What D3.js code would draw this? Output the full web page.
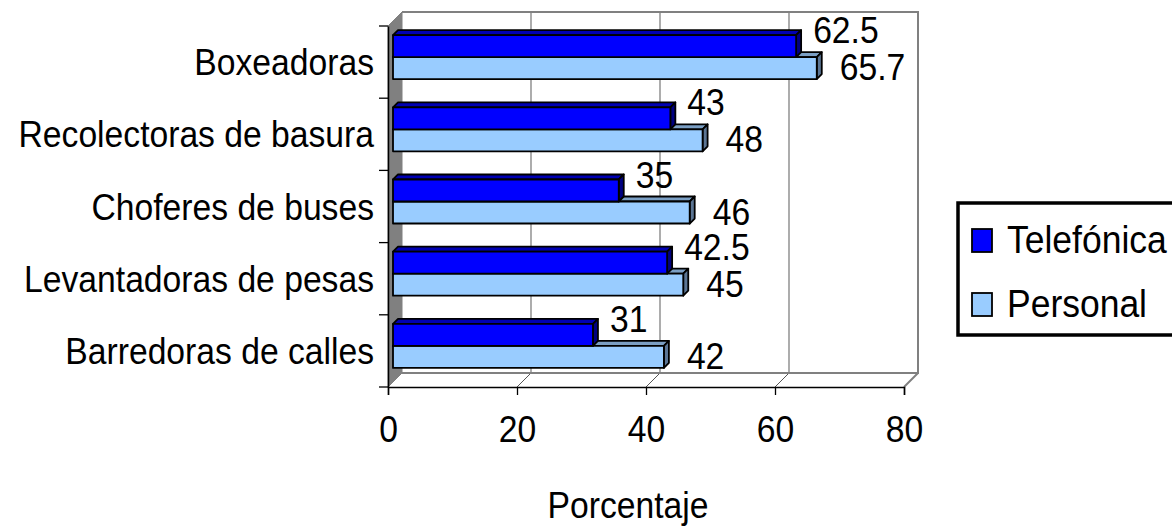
<!DOCTYPE html>
<html><head><meta charset="utf-8">
<script src="https://cdn.jsdelivr.net/npm/d3@7"></script>
<style>body{margin:0;background:#fff}svg{display:block}text{font-family:"Liberation Sans",Arial,sans-serif;fill:#000}</style>
</head><body>
<script>
const categories = ["Boxeadoras","Recolectoras de basura","Choferes de buses","Levantadoras de pesas","Barredoras de calles"];
const seriesNames = ["Telefónica","Personal"];
const telefonica = [62.5,43,35,42.5,31];
const personal = [65.7,48,46,45,42];
const xTicks = [0,20,40,60,80];
const axisTitle = "Porcentaje";

const W=1172,H=526;
const svg=d3.select("body").append("svg").attr("width",W).attr("height",H);
const SX=0.91, FS=37;
const D=14;      // wall depth offset
const dz=5;      // bar offset from front plane
const bd=5;      // bar depth

const x=d3.scaleLinear().domain([0,80]).range([388,904]);
const y=d3.scaleBand().domain(categories).range([26,387]).padding(0);
const s=d3.scaleBand().domain(seriesNames).range([0,y.bandwidth()]).paddingInner(0).paddingOuter(0.64);
const colors={"Telefónica":{front:"#0000FF",top:"#0000B3",side:"#000080"},
              "Personal":{front:"#99CCFF",top:"#7B9FC4",side:"#5B7594"}};

const y0=y.range()[0], y1=y.range()[1];
const X0=x(0), X1=x(80);
// back wall
svg.append("rect").attr("x",X0+D).attr("y",y0-D).attr("width",X1-X0).attr("height",y1-y0).attr("fill","#fff");
// gridlines on back wall
xTicks.slice(1,-1).forEach(t=>{
  svg.append("line").attr("x1",x(t)+D).attr("x2",x(t)+D).attr("y1",y0-D).attr("y2",y1-D).attr("stroke","#808080").attr("stroke-width",1.3);
  svg.append("line").attr("x1",x(t)).attr("y1",y1).attr("x2",x(t)+D).attr("y2",y1-D).attr("stroke","#555").attr("stroke-width",1);
});
// back wall border
svg.append("path").attr("d",`M${X0+D},${y0-D}H${X1+D}V${y1-D}H${X0+D}`).attr("fill","none").attr("stroke","#808080").attr("stroke-width",2);
svg.append("line").attr("x1",X1).attr("y1",y1).attr("x2",X1+D).attr("y2",y1-D).attr("stroke","#808080").attr("stroke-width",2);
// left side wall
svg.append("path").attr("d",`M${X0},${y0}L${X0+D},${y0-D}V${y1-D}L${X0},${y1}Z`).attr("fill","#808080").attr("stroke","#808080");

// bars
categories.forEach((c,i)=>{
  [["Personal",personal[i]],["Telefónica",telefonica[i]]].forEach(([ser,v])=>{
    const col=colors[ser];
    const bx0=x(0)+dz, bx1=x(v)+dz, by=y(c)+s(ser)-dz, bh=s.bandwidth();
    const g=svg.append("g").attr("stroke","#000").attr("stroke-width",1.8).attr("stroke-linejoin","round");
    g.append("path").attr("d",`M${bx0},${by}L${bx0+bd},${by-bd}H${bx1+bd}L${bx1},${by}Z`).attr("fill",col.top);
    g.append("path").attr("d",`M${bx1},${by}L${bx1+bd},${by-bd}V${by+bh-bd}L${bx1},${by+bh}Z`).attr("fill",col.side);
    g.append("rect").attr("x",bx0).attr("y",by).attr("width",bx1-bx0).attr("height",bh).attr("fill",col.front);
  });
});

// data labels
categories.forEach((c,i)=>{
  const cy=y(c)+y.bandwidth()/2;
  [[telefonica[i],17,-19],[personal[i],23,18]].forEach(([v,ox,oy])=>{
    svg.append("text").attr("transform",`translate(${x(v)+dz+ox},${cy+oy}) scale(${SX},1)`)
      .attr("font-size",FS).text(v);
  });
});

// x axis
const xa=svg.append("g").attr("transform",`translate(0,${y1})`)
  .call(d3.axisBottom(x).tickValues(xTicks).tickSize(8).tickFormat(d3.format("d")));
xa.select(".domain").attr("stroke","#000").attr("stroke-width",1.5);
xa.selectAll(".tick line").attr("stroke","#000").attr("stroke-width",1.3);
xa.selectAll(".tick text").attr("y",0).attr("dy",0).attr("font-size",FS).attr("font-family",null)
  .attr("transform",`translate(0,55) scale(${SX},1)`);

// y axis
const ya=svg.append("g").attr("transform",`translate(${X0},0)`)
  .call(d3.axisLeft(y).tickSize(0).tickPadding(0));
ya.select(".domain").attr("stroke","#000").attr("stroke-width",1.5);
ya.selectAll(".tick text").attr("x",0).attr("dy",0).attr("font-size",FS).attr("font-family",null)
  .attr("transform",`translate(-14,13) scale(${SX},1)`);
const bounds=categories.map(c=>y(c)).concat([y1]);
ya.selectAll(".bnd").data(bounds).enter().append("line").attr("class","bnd")
  .attr("x1",-9).attr("x2",0).attr("y1",d=>d).attr("y2",d=>d).attr("stroke","#000").attr("stroke-width",1.3);

// axis title
svg.append("text").attr("transform",`translate(628,518) scale(${SX},1)`).attr("text-anchor","middle")
  .attr("font-size",FS).text(axisTitle);

// legend
const lg=svg.append("g");
lg.append("rect").attr("x",958).attr("y",203).attr("width",240).attr("height",132)
  .attr("fill","#fff").attr("stroke","#000").attr("stroke-width",3.5);
seriesNames.forEach((n,i)=>{
  const by=229+i*64;
  lg.append("rect").attr("x",972).attr("y",by).attr("width",20).attr("height",23)
    .attr("fill",colors[n].front).attr("stroke","#000").attr("stroke-width",1.8);
  lg.append("text").attr("transform",`translate(1007,${by+24}) scale(${SX},1)`).attr("font-size",39).text(n);
});
</script>
</body></html>
